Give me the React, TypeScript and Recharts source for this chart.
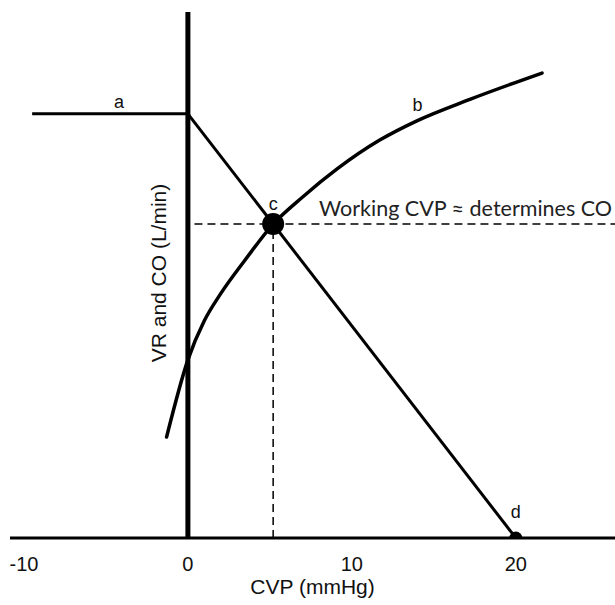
import React from 'react';
import {
  ComposedChart,
  Line,
  Scatter,
  XAxis,
  YAxis,
  ReferenceLine,
  ReferenceDot,
  LabelList,
  Label,
} from 'recharts';

// cardiac function curve (b)
const cardiacCvp = [-1.3, 0, 1, 2, 3.5, 5.2, 7, 9.1, 11.7, 14, 17.2, 21.6];
const cardiacOutput = [1.19, 2.1, 2.56, 2.88, 3.28, 3.7, 4.02, 4.35, 4.69, 4.92, 5.17, 5.48];

// venous return plateau (a) and slope down to mean systemic pressure (d)
const plateauCvp = [-9.5, 0];
const plateauVr = [5, 5];
const returnCvp = [0, 20];
const returnVr = [5, 0];

// working point (c) and zero-flow point (d)
const workingCvp = [5.2];
const workingFlow = [3.7];
const zeroFlowCvp = [20];
const zeroFlowVr = [0];

// curve labels
const curveNames = ['a', 'b'];
const curveLabelCvp = [-4.2, 14];
const curveLabelValue = [5, 4.92];

const xTicks = [-10, 0, 10, 20];

const rows = (xs: number[], ys: number[], name?: string) =>
  xs.map((x, i) => ({ cvp: x, value: ys[i], name }));

const arial = 'Liberation Sans, Arial, sans-serif';

const YTitle = (props: any) => {
  const { viewBox } = props;
  const x = viewBox.x - 29;
  const y = viewBox.y + viewBox.height / 2 - 2;
  return (
    <text
      x={x}
      y={y}
      transform={`rotate(-90, ${x}, ${y})`}
      textAnchor="middle"
      dominantBaseline="central"
      fontFamily={arial}
      fontSize={21}
      fill="#111"
    >
      VR and CO (L/min)
    </text>
  );
};

const WorkingNote = (props: any) => {
  const { viewBox } = props;
  return (
    <text
      x={viewBox.x + viewBox.width - 3}
      y={viewBox.y - 8}
      textAnchor="end"
      fontFamily="Lato, sans-serif"
      fontSize={21.5}
      fill="#222"
    >
      Working CVP ≈ determines CO
    </text>
  );
};

const Dot = (r: number) => (props: any) => (
  <circle cx={props.cx} cy={props.cy} r={r} fill="#000" />
);

export default function App() {
  const labelStyle = { fontFamily: arial, fontSize: 18, fill: '#111' };
  return (
    <div style={{ position: 'absolute', left: 0, top: 0 }}>
      <ComposedChart width={615} height={605} margin={{ top: 12, right: 0, bottom: 0, left: 10 }}>
        <XAxis
          type="number"
          dataKey="cvp"
          domain={[-10.85, 26.05]}
          ticks={xTicks}
          allowDataOverflow
          axisLine={false}
          tickLine={false}
          tickMargin={13}
          height={67}
          tick={{ fill: '#111', fontSize: 20, fontFamily: arial }}
        >
          <Label
            value="CVP (mmHg)"
            position="insideBottom"
            offset={11}
            style={{ fontFamily: arial, fontSize: 21, fill: '#111' }}
          />
        </XAxis>
        <YAxis type="number" dataKey="value" domain={[0, 6.2]} allowDataOverflow hide />

        <ReferenceLine
          segment={[
            { x: 0.4, y: workingFlow[0] },
            { x: 26.05, y: workingFlow[0] },
          ]}
          stroke="#000"
          strokeWidth={1.5}
          strokeDasharray="8 5"
          label={<WorkingNote />}
        />
        <ReferenceLine
          segment={[
            { x: workingCvp[0], y: 0 },
            { x: workingCvp[0], y: workingFlow[0] },
          ]}
          stroke="#000"
          strokeWidth={1.5}
          strokeDasharray="8 5"
        />

        <Line
          data={rows(plateauCvp, plateauVr)}
          dataKey="value"
          type="linear"
          stroke="#000"
          strokeWidth={3}
          dot={false}
          activeDot={false}
          isAnimationActive={false}
        />
        <Line
          data={rows(returnCvp, returnVr)}
          dataKey="value"
          type="linear"
          stroke="#000"
          strokeWidth={3}
          dot={false}
          activeDot={false}
          isAnimationActive={false}
        />
        <Line
          data={rows(cardiacCvp, cardiacOutput)}
          dataKey="value"
          type="monotone"
          stroke="#000"
          strokeWidth={3.5}
          strokeLinecap="round"
          dot={false}
          activeDot={false}
          isAnimationActive={false}
        />

        <ReferenceLine x={0} stroke="#000" strokeWidth={5} label={<YTitle />} />
        <ReferenceLine y={0} stroke="#000" strokeWidth={3} />

        {curveNames.map((n, i) => (
          <ReferenceDot
            key={n}
            x={curveLabelCvp[i]}
            y={curveLabelValue[i]}
            r={0}
            stroke="none"
            label={{ value: n, position: 'top', offset: i === 0 ? 6 : 10, style: labelStyle }}
          />
        ))}

        <Scatter
          data={rows(workingCvp, workingFlow, 'c')}
          shape={Dot(11)}
          isAnimationActive={false}
        >
          <LabelList dataKey="name" position="top" offset={10} style={labelStyle} />
        </Scatter>
        <Scatter
          data={rows(zeroFlowCvp, zeroFlowVr, 'd')}
          shape={Dot(6.5)}
          isAnimationActive={false}
        >
          <LabelList dataKey="name" position="top" offset={15} style={labelStyle} />
        </Scatter>
      </ComposedChart>
    </div>
  );
}
